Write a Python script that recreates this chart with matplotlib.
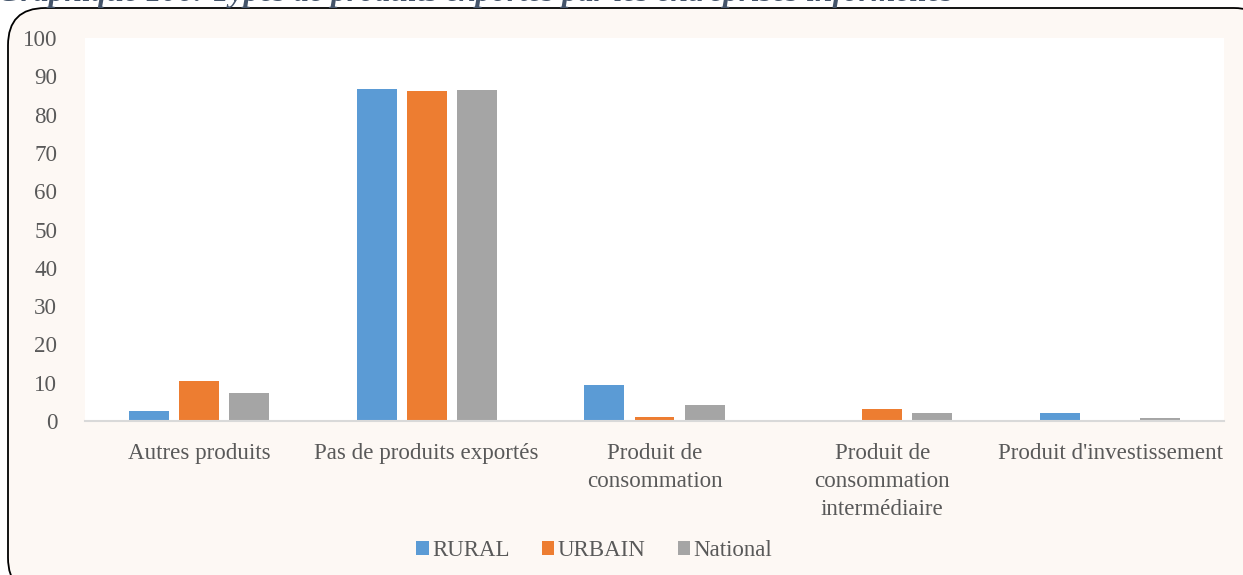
import numpy as np
import matplotlib
matplotlib.use("Agg")
import matplotlib.pyplot as plt
from matplotlib.patches import FancyBboxPatch

categories = ["Autres produits", "Pas de produits exportés", "Produit de\nconsommation",
              "Produit de\nconsommation\nintermédiaire", "Produit d'investissement"]
rural = [2.6, 86.7, 9.4, 0.0, 2.1]
urbain = [10.4, 86.2, 1.0, 3.1, 0.0]
national = [7.4, 86.4, 4.2, 2.1, 0.8]
series = [("RURAL", rural, "#5B9BD5"), ("URBAIN", urbain, "#ED7D31"), ("National", national, "#A5A5A5")]

plt.rcParams["font.family"] = ["Liberation Serif", "DejaVu Serif"]
W, H = 1243, 575
fig = plt.figure(figsize=(W / 100, H / 100), dpi=100)
fig.patch.set_facecolor("white")

# chart area with rounded border
box = FancyBboxPatch((8 / W, -20 / H), (W + 20) / W, (H + 12) / H,
                     boxstyle="round,pad=0,rounding_size=0.03",
                     transform=fig.transFigure, facecolor="#FDF8F4",
                     edgecolor="black", linewidth=1.3, mutation_aspect=W / H,
                     zorder=-5)
fig.patches.append(box)

fig.text(-2 / W, 1 - 1.5 / H, "Graphique 106: Types de produits exportés par les entreprises informelles",
         fontsize=22.7, fontweight="bold", style="italic", color="#44546A",
         va="baseline", ha="left")

ax = fig.add_axes([85 / W, (H - 421) / H, (1224 - 85) / W, (421 - 38) / H])
ax.set_facecolor("white")

x = np.arange(len(categories))
width = 0.175
offsets = [-0.22, 0.0, 0.22]
for (name, vals, color), off in zip(series, offsets):
    ax.bar(x + off, vals, width, color=color, label=name, edgecolor="none")

ax.set_ylim(0, 100)
ax.set_yticks(range(0, 101, 10))
ax.set_xlim(-0.5, len(categories) - 0.5)
ax.set_xticks(x)
ax.set_xticklabels(categories, fontsize=16.6, color="#595959", linespacing=1.42)
ax.tick_params(axis="y", labelsize=16.6, labelcolor="#595959", length=0, pad=20)
ax.tick_params(axis="x", length=0, pad=16)
for s in ["top", "right", "left"]:
    ax.spines[s].set_visible(False)
ax.spines["bottom"].set_color("#D9D9D9")
ax.spines["bottom"].set_linewidth(1.5)

leg = fig.legend(loc="center", bbox_to_anchor=(0.478, 1 - 551 / H), ncol=3, frameon=False,
                 fontsize=16.5, handlelength=0.55, handleheight=0.55, handletextpad=0.15,
                 columnspacing=1.4)
for t in leg.get_texts():
    t.set_color("#595959")

fig.savefig("out.png", dpi=100)
